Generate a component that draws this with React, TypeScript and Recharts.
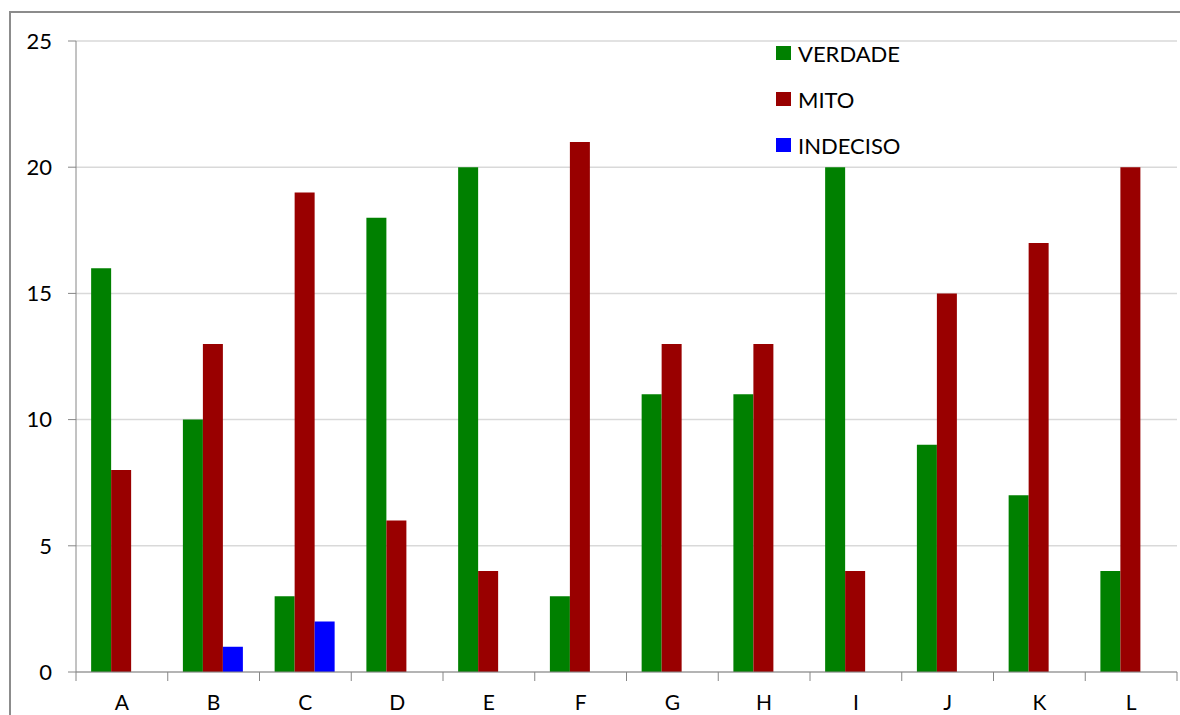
import { BarChart, Bar, XAxis, YAxis, CartesianGrid } from "recharts"

const categories = ["A", "B", "C", "D", "E", "F", "G", "H", "I", "J", "K", "L"]
const verdade = [16, 10, 3, 18, 20, 3, 11, 11, 20, 9, 7, 4]
const mito = [8, 13, 19, 6, 4, 21, 13, 13, 4, 15, 17, 20]
const indeciso = [0, 1, 2, 0, 0, 0, 0, 0, 0, 0, 0, 0]
const yTicks = [0, 5, 10, 15, 20, 25]

const SERIES = [
  { key: "verdade", name: "VERDADE", color: "#008000" },
  { key: "mito", name: "MITO", color: "#990000" },
  { key: "indeciso", name: "INDECISO", color: "#0000FF" },
]

const data = categories.map((c, i) => ({
  cat: c,
  verdade: verdade[i],
  mito: mito[i],
  indeciso: indeciso[i],
}))

const W = 1180
const H = 715
const LEFT = 76
const RIGHT = 3
const FONT = "Lato, 'Open Sans', sans-serif"
const band = (W - LEFT - RIGHT) / categories.length

function CatTick(props: any) {
  const { x, y, payload, index } = props
  return (
    <g>
      <line x1={x - band / 2} y1={y - 8} x2={x - band / 2} y2={y + 1} stroke="#868686" />
      {index === categories.length - 1 && (
        <line x1={x + band / 2} y1={y - 8} x2={x + band / 2} y2={y + 1} stroke="#868686" />
      )}
      <text x={x} y={y + 30} textAnchor="middle" fill="#000" fontSize={21} fontFamily={FONT}>
        {payload.value}
      </text>
    </g>
  )
}

function LegendBox() {
  return (
    <div style={{ position: "absolute", top: 30, left: 776, fontFamily: FONT, fontSize: 22, color: "#000" }}>
      {SERIES.map((s) => (
        <div key={s.key} style={{ display: "flex", alignItems: "center", height: 46 }}>
          <span style={{ width: 15, height: 14, background: s.color, display: "inline-block", marginRight: 7 }} />
          <span>{s.name}</span>
        </div>
      ))}
    </div>
  )
}

export default function App() {
  return (
    <div style={{ position: "absolute", top: 0, left: 0, width: W, height: H, background: "#fff", overflow: "hidden" }}>
      <div
        style={{
          position: "absolute",
          top: 11,
          left: 9,
          width: W,
          height: H,
          borderTop: "2px solid #8c8c8c",
          borderLeft: "2px solid #8c8c8c",
        }}
      />
      <div style={{ position: "absolute", top: 0, left: 0 }}>
        <BarChart
          width={W}
          height={H}
          data={data}
          margin={{ top: 41, right: RIGHT, bottom: 0, left: 0 }}
          barCategoryGap="16.5%"
          barGap={0}
        >
          <CartesianGrid vertical={false} stroke="#d9d9d9" strokeWidth={1.5} />
          <XAxis
            dataKey="cat"
            height={43}
            stroke="#868686"
            tickLine={false}
            tick={<CatTick />}
            interval={0}
          />
          <YAxis
            width={LEFT}
            domain={[0, 25]}
            ticks={yTicks}
            interval={0}
            stroke="#868686"
            tickSize={8}
            tickMargin={16}
            tick={{ fill: "#000", fontSize: 22, fontFamily: FONT }}
          />
          {SERIES.map((s) => (
            <Bar key={s.key} dataKey={s.key} name={s.name} fill={s.color} isAnimationActive={false} />
          ))}
        </BarChart>
      </div>
      <LegendBox />
    </div>
  )
}
